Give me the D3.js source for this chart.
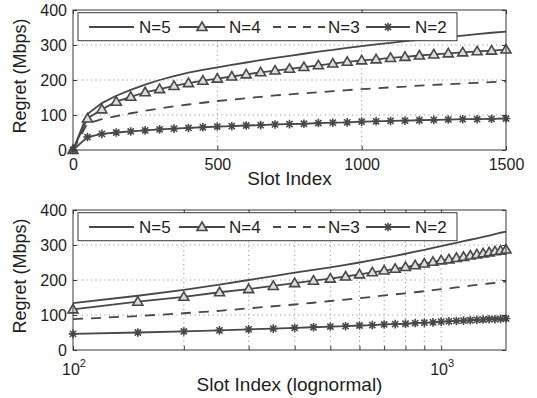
<!DOCTYPE html>
<html><head><meta charset="utf-8">
<script src="https://cdn.jsdelivr.net/npm/d3@7"></script>
<style>
html,body{margin:0;padding:0;background:#fff;}
svg{display:block;font-family:"Liberation Sans",Arial,Helvetica,sans-serif;}
</style></head><body>
<svg id="chart" width="537" height="398"></svg>
<script>
// Cumulative regret per slot index for networks of N = 5, 4, 3, 2 users
const slots = [0,50,100,150,200,250,300,350,400,450,500,550,600,650,700,750,
               800,850,900,950,1000,1050,1100,1150,1200,1250,1300,1350,1400,1450,1500];
const regretN5 = [0,103,134,155,172,187,200,211,221,229,236,243,250,257,263,269,
                  275,281,286,292,297,302,306,311,315,319,323,327,331,335,338];
const regretN4 = [0,90,116,138,152,165,174,183,191,198,204,210,216,222,227,232,
                  237,242,247,252,256,259,263,266,270,273,276,279,282,284,287];
const regretN3 = [0,76,88,97,105,112,119,125,130,135,140,144,148,152,156,159,
                  162,165,168,171,174,176,179,181,184,186,188,190,192,194,196];
const regretN2 = [0,37,46,50,53,56,59,61,63,65,67,68,70,71,73,74,
                  75,77,78,79,81,82,83,84,85,86,87,88,88,89,90];
const seriesNames = ["N=5","N=4","N=3","N=2"];
const yTicks = [0,100,200,300,400];
const linearTicks = [0,500,1000,1500];
const logMajorTicks = [100,1000];
const logMinorTicks = [200,300,400,500,600,700,800,900];

const ink = "#484848", textInk = "#1e1e1e", gridInk = "#8a8a8a";
const svg = d3.select("#chart");

const series = [
  {name: seriesNames[0], values: regretN5, dash: null, marker: null},
  {name: seriesNames[1], values: regretN4, dash: null, marker: "triangle"},
  {name: seriesNames[2], values: regretN3, dash: "10,8", marker: null},
  {name: seriesNames[3], values: regretN2, dash: null, marker: "star"}
];

const markerPath = {
  triangle: "M0,-5L5,3.5L-5,3.5Z",
  star: "M-4.3,0H4.3M0,-4.3V4.3M-3.1,-3.1L3.1,3.1M-3.1,3.1L3.1,-3.1"
};

function drawMarker(g, kind, cx, cy) {
  g.append("path")
    .attr("d", markerPath[kind])
    .attr("transform", `translate(${cx},${cy})`)
    .attr("fill", kind === "triangle" ? "#dcdcdc" : "none")
    .attr("stroke", ink)
    .attr("stroke-width", 1.6);
}

const panels = [
  {top: 10, bottom: 150, log: false, minSlot: 0,
   x: d3.scaleLinear().domain([0,1500]).range([73,506]),
   xlabel: "Slot Index", xlabelY: 185},
  {top: 210, bottom: 350, log: true, minSlot: 100,
   x: d3.scaleLog().domain([100,1500]).range([73,506]),
   xlabel: "Slot Index (lognormal)", xlabelY: 391}
];

panels.forEach(p => {
  const x = p.x;
  const y = d3.scaleLinear().domain([0,400]).range([p.bottom, p.top]);
  const [x0, x1] = x.range();
  const g = svg.append("g");

  // dotted grid
  const grid = g.append("g").attr("stroke", gridInk).attr("stroke-width", 1)
    .attr("stroke-dasharray", "1,3.5");
  yTicks.filter(v => v > 0 && v < 400).forEach(v => {
    grid.append("line").attr("x1", x0).attr("x2", x1)
      .attr("y1", y(v)).attr("y2", y(v));
  });
  const vGrid = p.log ? logMinorTicks.concat([1000]) : [500,1000];
  vGrid.forEach(v => {
    grid.append("line").attr("x1", x(v)).attr("x2", x(v))
      .attr("y1", p.top).attr("y2", p.bottom);
  });

  // series lines and markers
  series.forEach(s => {
    const pts = slots.map((t,i) => [t, s.values[i]]).filter(d => d[0] >= p.minSlot);
    const line = d3.line().x(d => x(d[0])).y(d => y(d[1]));
    g.append("path").datum(pts)
      .attr("d", line)
      .attr("fill", "none")
      .attr("stroke", ink)
      .attr("stroke-width", 1.8)
      .attr("stroke-dasharray", s.dash);
    if (s.marker) {
      pts.forEach(d => drawMarker(g, s.marker, x(d[0]), y(d[1])));
    }
  });

  // frame
  g.append("rect").attr("x", x0).attr("y", p.top)
    .attr("width", x1 - x0).attr("height", p.bottom - p.top)
    .attr("fill", "none").attr("stroke", "#3a3a3a").attr("stroke-width", 1);

  const styleAxis = a => {
    a.select(".domain").remove();
    a.selectAll("line").attr("stroke", "#3a3a3a");
    a.selectAll("text").attr("fill", textInk).attr("font-size", 16)
      .attr("font-family", "Liberation Sans, Arial, Helvetica, sans-serif");
  };

  const xTickVals = p.log ? logMajorTicks.concat(logMinorTicks) : linearTicks;
  const xFmt = p.log ? () => "" : d3.format("d");
  g.append("g").attr("transform", `translate(0,${p.bottom})`)
    .call(d3.axisBottom(x).tickValues(xTickVals).tickFormat(xFmt)
      .tickSizeInner(-4).tickSizeOuter(0).tickPadding(9))
    .call(styleAxis);
  g.append("g").attr("transform", `translate(0,${p.top})`)
    .call(d3.axisTop(x).tickValues(xTickVals).tickFormat(() => "")
      .tickSizeInner(-4).tickSizeOuter(0))
    .call(styleAxis);
  g.append("g").attr("transform", `translate(${x0},0)`)
    .call(d3.axisLeft(y).tickValues(yTicks).tickFormat(d3.format("d"))
      .tickSizeInner(-4).tickSizeOuter(0).tickPadding(6))
    .call(styleAxis);
  g.append("g").attr("transform", `translate(${x1},0)`)
    .call(d3.axisRight(y).tickValues(yTicks).tickFormat(() => "")
      .tickSizeInner(-4).tickSizeOuter(0))
    .call(styleAxis);

  // power-of-ten labels on the log axis
  if (p.log) {
    logMajorTicks.forEach(v => {
      const t = g.append("text")
        .attr("x", x(v) + 1).attr("y", p.bottom + 24.5)
        .attr("text-anchor", "middle").attr("fill", textInk)
        .attr("font-size", 16);
      t.append("tspan").text("10");
      t.append("tspan").attr("dy", -8).attr("font-size", 11)
        .text(String(Math.round(Math.log10(v))));
    });
  }

  // axis titles
  g.append("text").attr("x", (x0 + x1) / 2).attr("y", p.xlabelY)
    .attr("text-anchor", "middle").attr("fill", textInk)
    .attr("font-size", 19).text(p.xlabel);
  g.append("text")
    .attr("transform", `translate(26,${p.top + 66}) rotate(-90)`)
    .attr("text-anchor", "middle").attr("fill", textInk)
    .attr("font-size", 18).text("Regret (Mbps)");

  // legend
  const lg = g.append("g").attr("transform", `translate(0,${p.top})`);
  lg.append("rect").attr("x", 78).attr("y", 2.7).attr("width", 379).attr("height", 28)
    .attr("fill", "#fff").attr("stroke", "#3a3a3a").attr("stroke-width", 1);
  const slotsX = [[89,134,139],[179,225,229],[273,325,328],[366,410,415]];
  series.forEach((s,i) => {
    const [a,b,tx] = slotsX[i];
    const ly = 17;
    lg.append("line").attr("x1", a).attr("x2", b).attr("y1", ly).attr("y2", ly)
      .attr("stroke", ink).attr("stroke-width", 1.8)
      .attr("stroke-dasharray", s.dash ? "8,7" : null);
    if (s.marker) drawMarker(lg, s.marker, (a + b) / 2, ly);
    lg.append("text").attr("x", tx).attr("y", ly + 6)
      .attr("fill", textInk).attr("font-size", 17).text(s.name);
  });
});
</script>
</body></html>
